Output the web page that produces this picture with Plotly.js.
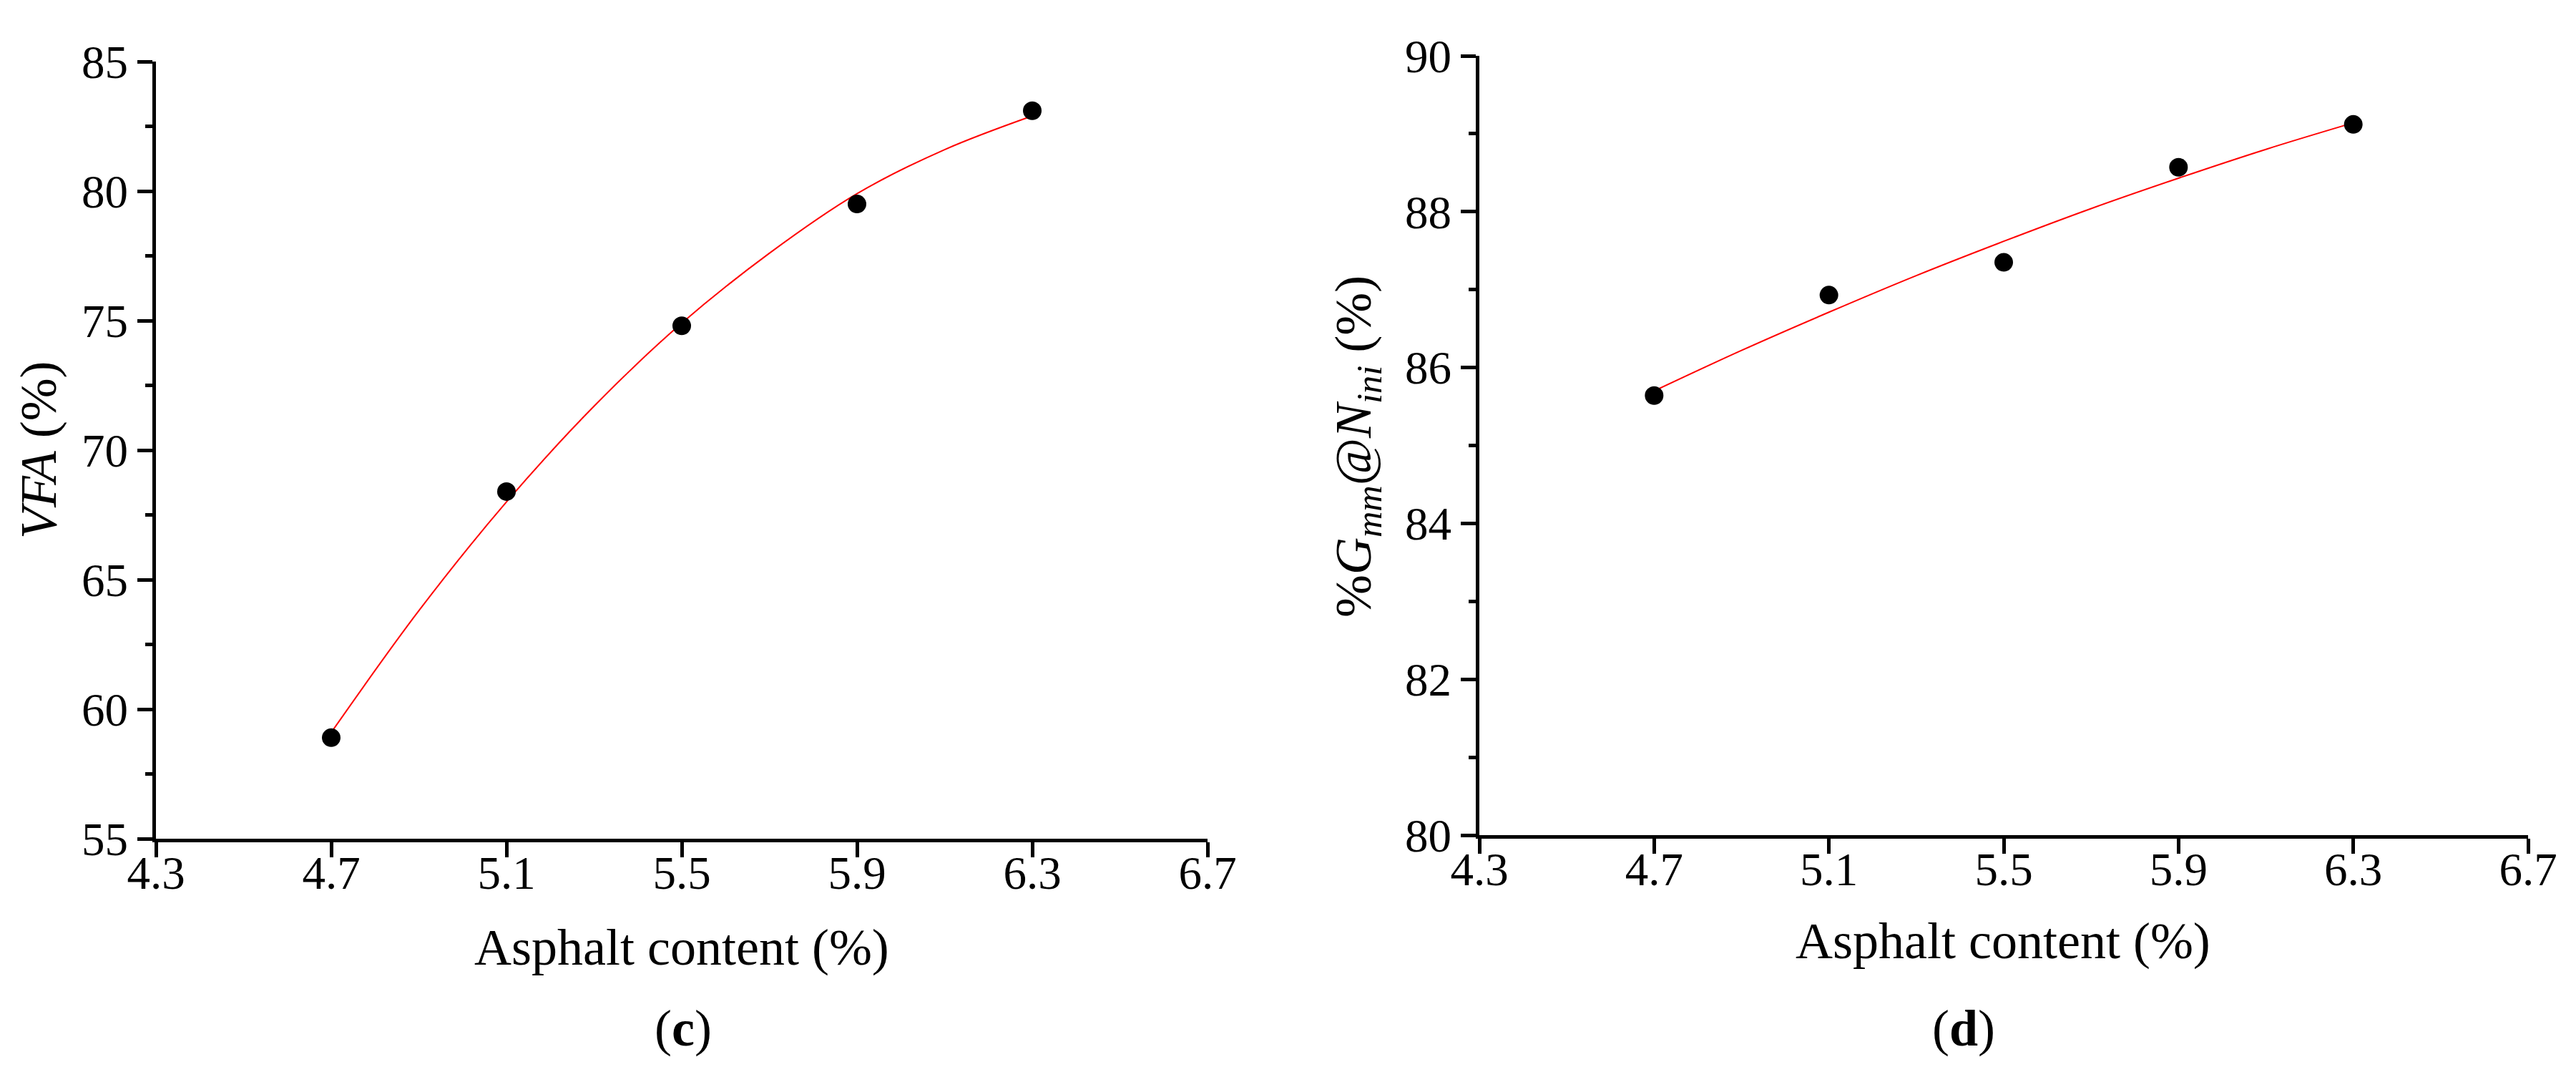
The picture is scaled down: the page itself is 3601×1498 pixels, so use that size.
<!DOCTYPE html>
<html>
<head>
<meta charset="utf-8">
<script src="https://cdn.plot.ly/plotly-3.0.1.min.js"></script>
<style>
  body { margin: 0; background: #fff; }
  #chart { width: 3601px; height: 1498px; }
</style>
</head>
<body>
<div id="chart"></div>
<script>
// measured points (asphalt content vs property)
var asphalt = [4.7, 5.1, 5.5, 5.9, 6.3];
var vfa = [58.9, 68.4, 74.8, 79.5, 83.1];
var gmmIni = [85.64, 86.93, 87.35, 88.57, 89.12];

// red fit curves
var fitX = [4.7, 4.9, 5.1, 5.3, 5.5, 5.7, 5.9, 6.1, 6.3];
var vfaFit = [59.1, 63.8, 68.0, 71.7, 74.9, 77.6, 79.9, 81.6, 82.9];
var gmmFit = [85.70, 86.22, 86.71, 87.18, 87.62, 88.04, 88.43, 88.80, 89.14];

var xTickVals = [4.3, 4.7, 5.1, 5.5, 5.9, 6.3, 6.7];
var xTickText = ['4.3', '4.7', '5.1', '5.5', '5.9', '6.3', '6.7'];
var vfaTicks = [55, 60, 65, 70, 75, 80, 85];
var gmmTicks = [80, 82, 84, 86, 88, 90];

var W = 3601, H = 1498;
function px(x) { return x / W; }
function py(y) { return 1 - y / H; }

var serif = 'Liberation Serif, Times New Roman, serif';

function fitTrace(x, y, xa, ya) {
  return {
    x: x, y: y, xaxis: xa, yaxis: ya,
    mode: 'lines', type: 'scatter',
    line: { color: 'rgb(255,0,0)', width: 2, shape: 'spline' },
    hoverinfo: 'skip'
  };
}

function dotTrace(x, y, xa, ya) {
  return {
    x: x, y: y, xaxis: xa, yaxis: ya,
    mode: 'markers', type: 'scatter',
    marker: { color: '#000', size: 26 }
  };
}

let plotData = [
  fitTrace(fitX, vfaFit, 'x', 'y'),
  dotTrace(asphalt, vfa, 'x', 'y'),
  fitTrace(fitX, gmmFit, 'x2', 'y2'),
  dotTrace(asphalt, gmmIni, 'x2', 'y2')
];

function xAxis(dom, anchor) {
  return {
    domain: dom, anchor: anchor, range: [4.3, 6.7],
    tickmode: 'array', tickvals: xTickVals, ticktext: xTickText,
    showline: true, linecolor: '#000', linewidth: 5,
    ticks: 'outside', ticklen: 21, tickwidth: 5, tickcolor: '#000',
    ticklabelstandoff: -34,
    showgrid: false, zeroline: false,
    tickfont: { family: serif, size: 65, color: '#000' }
  };
}

function yAxis(dom, anchor, rng, ticks, minorStep) {
  return {
    domain: dom, anchor: anchor, range: rng,
    tickmode: 'array', tickvals: ticks,
    showline: true, linecolor: '#000', linewidth: 5,
    ticks: 'outside', ticklen: 21, tickwidth: 5, tickcolor: '#000',
    minor: { ticks: 'outside', ticklen: 10, tickwidth: 5, tickcolor: '#000', dtick: minorStep, tick0: rng[0], showgrid: false },
    showgrid: false, zeroline: false,
    tickfont: { family: serif, size: 65, color: '#000' }
  };
}

var titleFont = { family: serif, size: 72, color: '#000' };

var layout = {
  width: W, height: H,
  margin: { l: 0, r: 0, t: 0, b: 0 },
  paper_bgcolor: '#fff', plot_bgcolor: '#fff',
  showlegend: false,
  xaxis: xAxis([px(218), px(1688)], 'y'),
  yaxis: yAxis([py(1172), py(86)], 'x', [55, 85], vfaTicks, 2.5),
  xaxis2: xAxis([px(2068), px(3534)], 'y2'),
  yaxis2: yAxis([py(1167), py(78)], 'x2', [80, 90], gmmTicks, 1),
  annotations: [
    { text: 'Asphalt content (%)', xref: 'paper', yref: 'paper', x: px(953), y: py(1324),
      xanchor: 'center', yanchor: 'middle', showarrow: false, font: titleFont },
    { text: 'Asphalt content (%)', xref: 'paper', yref: 'paper', x: px(2800), y: py(1315),
      xanchor: 'center', yanchor: 'middle', showarrow: false, font: titleFont },
    { text: '<i>VFA</i> (%)', xref: 'paper', yref: 'paper', x: px(54), y: py(629),
      xanchor: 'center', yanchor: 'middle', textangle: -90, showarrow: false, font: titleFont },
    { text: '%<i>G</i><sub><i>mm</i></sub>@<i>N</i><sub><i>ini</i></sub> (%)', xref: 'paper', yref: 'paper',
      x: px(1897), y: py(624), xanchor: 'center', yanchor: 'middle', textangle: -90, showarrow: false, font: titleFont },
    { text: '(<b>c</b>)', xref: 'paper', yref: 'paper', x: px(955), y: py(1437),
      xanchor: 'center', yanchor: 'middle', showarrow: false, font: titleFont },
    { text: '(<b>d</b>)', xref: 'paper', yref: 'paper', x: px(2745), y: py(1437),
      xanchor: 'center', yanchor: 'middle', showarrow: false, font: titleFont }
  ]
};

Plotly.newPlot('chart', plotData, layout, { staticPlot: true });
</script>
</body>
</html>
